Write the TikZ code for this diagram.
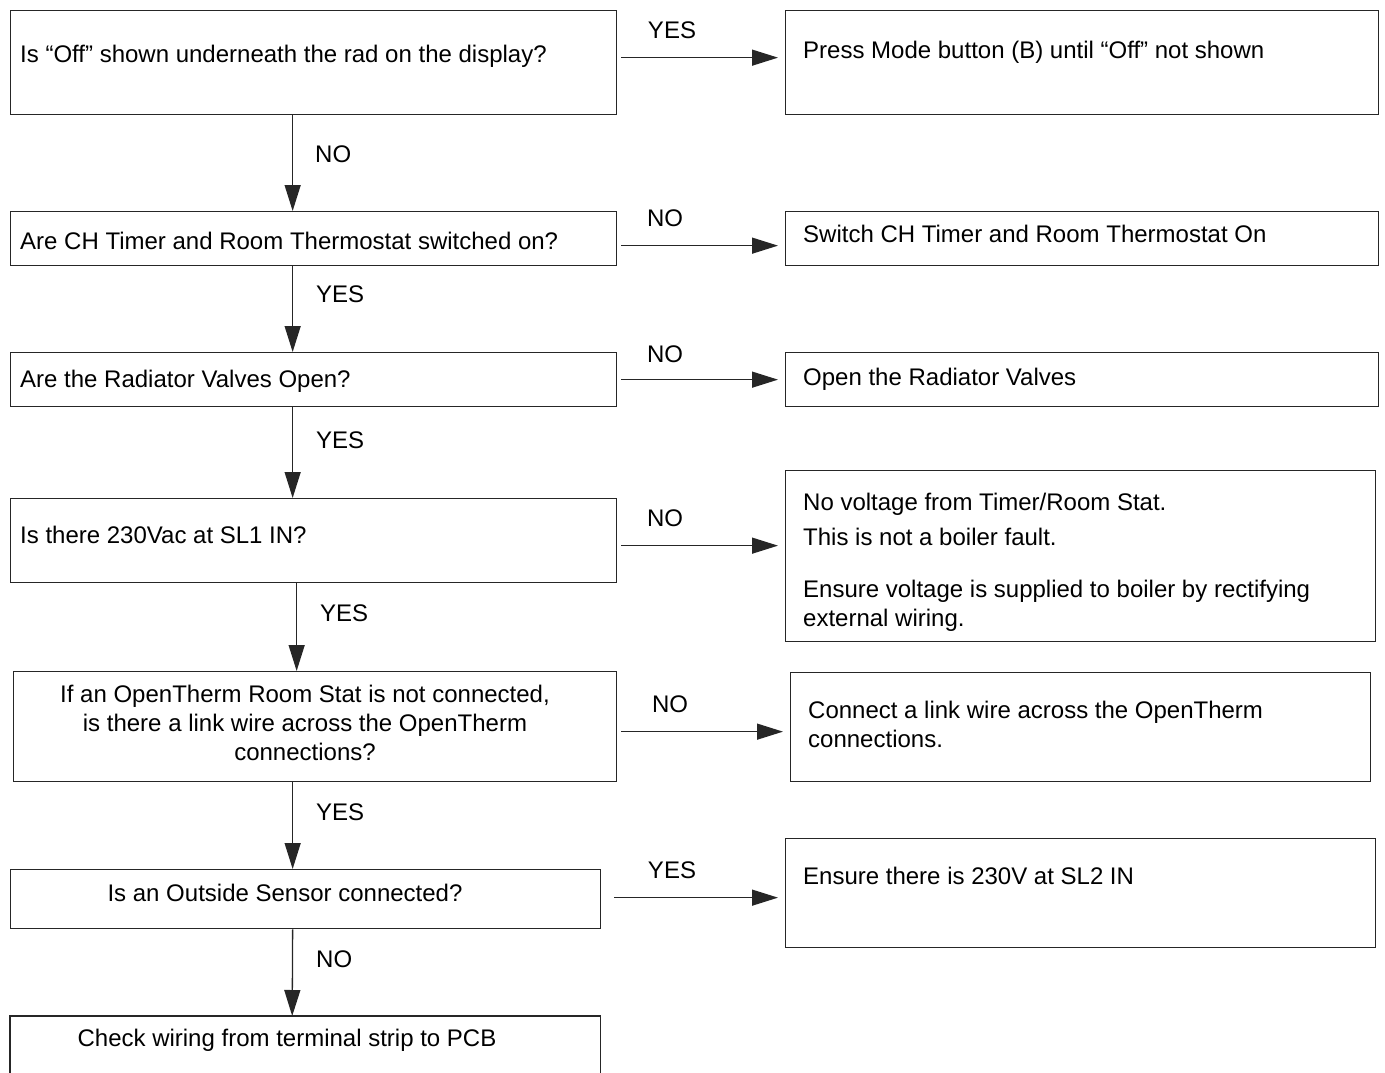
\documentclass[tikz,border=0pt]{standalone}
\usepackage{fontspec}
\setmainfont{Liberation Sans}
\usetikzlibrary{arrows.meta}
\begin{document}
\begin{tikzpicture}[x=1pt,y=-1pt,
  box/.style={draw=black!85, line width=1.3pt, anchor=north west, inner sep=0pt},
  txt/.style={font=\fontsize{24}{29}\selectfont, inner sep=0pt, anchor=west, align=left},
  ctxt/.style={font=\fontsize{24}{29}\selectfont, inner sep=0pt, anchor=center, align=center},
  lbl/.style={font=\fontsize{24}{29}\selectfont, inner sep=0pt},
  arr/.style={draw=black!85, line width=1.3pt, -{Triangle[length=26pt,width=16pt]}}]
\useasboundingbox (0,0) rectangle (1385,1073);

% left column boxes
\node[box, minimum width=606pt, minimum height=104pt] (q1) at (10,10) {};
\node[box, minimum width=606pt, minimum height=54pt] (q2) at (10,211) {};
\node[box, minimum width=606pt, minimum height=54pt] (q3) at (10,352) {};
\node[box, minimum width=606pt, minimum height=84pt] (q4) at (10,498) {};
\node[box, minimum width=603pt, minimum height=110pt] (q5) at (13,671) {};
\node[box, minimum width=590pt, minimum height=59pt] (q6) at (10,869) {};
\node[anchor=north west, inner sep=0pt, minimum width=590pt, minimum height=70pt] (q7) at (10,1016) {};
\draw[draw=black!85, line width=1.3pt] (q7.south west) -- (q7.north west) -- (q7.north east) -- (q7.south east);

% right column boxes
\node[box, minimum width=593pt, minimum height=104pt] (r1) at (785,10) {};
\node[box, minimum width=593pt, minimum height=54pt] (r2) at (785,211) {};
\node[box, minimum width=593pt, minimum height=54pt] (r3) at (785,352) {};
\node[box, minimum width=590pt, minimum height=171pt] (r4) at (785,470) {};
\node[box, minimum width=580pt, minimum height=109pt] (r5) at (790,672) {};
\node[box, minimum width=590pt, minimum height=109pt] (r6) at (785,838) {};

% texts
\node[txt] (q1t) at (20,56) {Is “Off” shown underneath the rad on the display?};
\node[txt] (q2t) at (20,241) {Are CH Timer and Room Thermostat switched on?};
\node[txt] (q3t) at (20,381) {Are the Radiator Valves Open?};
\node[txt] (q4t) at (20,535) {Is there 230Vac at SL1 IN?};
\node[ctxt] (q5t) at (305,723) {If an OpenTherm Room Stat is not connected,\\is there a link wire across the OpenTherm\\connections?};
\node[ctxt] (q6t) at (285,893) {Is an Outside Sensor connected?};
\node[ctxt] (q7t) at (287,1040) {Check wiring from terminal strip to PCB};

\node[txt] (r1t) at (803,52) {Press Mode button (B) until “Off” not shown};
\node[txt] (r2t) at (803,234) {Switch CH Timer and Room Thermostat On};
\node[txt] (r3t) at (803,379) {Open the Radiator Valves};
\node[txt] (r4a) at (803,504) {No voltage from Timer/Room Stat.};
\node[txt] (r4b) at (803,537) {This is not a boiler fault.};
\node[txt] (r4c) at (803,605.5) {Ensure voltage is supplied to boiler by rectifying\\external wiring.};
\node[txt] (r5t) at (808,724.5) {Connect a link wire across the OpenTherm\\connections.};
\node[txt] (r6t) at (803,876) {Ensure there is 230V at SL2 IN};

% horizontal connectors
\draw[arr] ([xshift=4pt,yshift=5pt]q1.east) -- ([xshift=-7pt,yshift=5pt]r1.west);
\draw[arr] ([xshift=4pt,yshift=-7pt]q2.east) -- ([xshift=-7pt,yshift=-7pt]r2.west);
\draw[arr] ([xshift=4pt]q3.east) -- ([xshift=-7pt]r3.west);
\draw[arr] ([xshift=4pt,yshift=-5pt]q4.east) -- ([xshift=-7pt,yshift=10.5pt]r4.west);
\draw[arr] ([xshift=4pt,yshift=-5pt]q5.east) -- ([xshift=-7pt,yshift=-4.5pt]r5.west);
\draw[arr] ([xshift=13pt,yshift=1.5pt]q6.east) -- ([xshift=-7pt,yshift=-4.5pt]r6.west);

\node[lbl] (l1) at (672,30) {YES};
\node[lbl] (l2) at (665,218) {NO};
\node[lbl] (l3) at (665,354) {NO};
\node[lbl] (l4) at (665,518) {NO};
\node[lbl] (l5) at (670,704) {NO};
\node[lbl] (l6) at (672,870) {YES};

% vertical connectors
\draw[arr] ([xshift=-21pt]q1.south) -- ([xshift=-21pt]q2.north);
\draw[arr] ([xshift=-21pt]q2.south) -- ([xshift=-21pt]q3.north);
\draw[arr] ([xshift=-21pt]q3.south) -- ([xshift=-21pt]q4.north);
\draw[arr] ([xshift=-17pt]q4.south) -- ([xshift=-18.5pt]q5.north);
\draw[arr] ([xshift=-22.5pt]q5.south) -- ([xshift=-13pt]q6.north);
\draw[arr] ([xshift=-13pt]q6.south) -- ([xshift=-13pt]q7.north);

\node[lbl, anchor=west] (d1) at (315,154) {NO};
\node[lbl, anchor=west] (d2) at (316,294) {YES};
\node[lbl, anchor=west] (d3) at (316,440) {YES};
\node[lbl, anchor=west] (d4) at (320,613) {YES};
\node[lbl, anchor=west] (d5) at (316,812) {YES};
\node[lbl, anchor=west] (d6) at (316,959) {NO};
\end{tikzpicture}
\end{document}
